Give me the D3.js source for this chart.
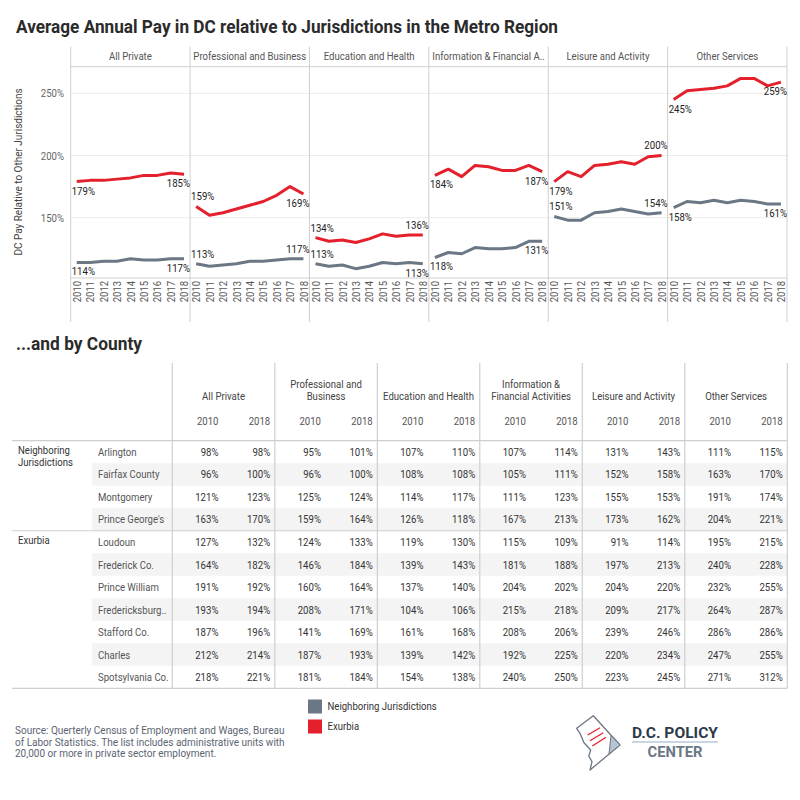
<!DOCTYPE html>
<html>
<head>
<meta charset="utf-8">
<script src="https://cdn.jsdelivr.net/npm/d3@7"></script>
<style>
  body { margin: 0; background: #fff; }
  svg text { font-family: Roboto, "Noto Sans", sans-serif; }
</style>
</head>
<body>
<div id="container"></div>
<script>
// ---- data ----
const years = [2010, 2011, 2012, 2013, 2014, 2015, 2016, 2017, 2018];
const sectors = ["All Private", "Professional and Business", "Education and Health",
  "Information & Financial A..", "Leisure and Activity", "Other Services"];

// one row per sector, one value per year
const neighboring = [
  [114, 114, 115, 115, 117, 116, 116, 117, 117],
  [113, 111, 112, 113, 115, 115, 116, 117, 117],
  [113, 111, 112, 109, 111, 114, 113, 114, 113],
  [118, 122, 121, 126, 125, 125, 126, 131, 131],
  [151, 148, 148, 154, 155, 157, 155, 153, 154],
  [158, 163, 162, 164, 162, 164, 163, 161, 161]
];
const exurbia = [
  [179, 180, 180, 181, 182, 184, 184, 186, 185],
  [159, 152, 154, 157, 160, 163, 168, 175, 169],
  [134, 131, 132, 130, 133, 137, 135, 136, 136],
  [184, 189, 183, 192, 191, 188, 188, 192, 187],
  [179, 187, 183, 192, 193, 195, 193, 199, 200],
  [245, 252, 253, 254, 256, 262, 262, 256, 259]
];
const yTicks = [150, 200, 250];

// table
const tableSectors = ["All Private", "Professional and\nBusiness", "Education and Health",
  "Information &\nFinancial Activities", "Leisure and Activity", "Other Services"];
const tableYears = ["2010", "2018"];
const groups = ["Neighboring\nJurisdictions", "Exurbia"];
const counties = ["Arlington", "Fairfax County", "Montgomery", "Prince George's",
  "Loudoun", "Frederick Co.", "Prince William", "Fredericksburg..", "Stafford Co.",
  "Charles", "Spotsylvania Co."];
const countyGroup = [0, 0, 0, 0, 1, 1, 1, 1, 1, 1, 1];
const countyValues = [
  [98, 98, 95, 101, 107, 110, 107, 114, 131, 143, 111, 115],
  [96, 100, 96, 100, 108, 108, 105, 111, 152, 158, 163, 170],
  [121, 123, 125, 124, 114, 117, 111, 123, 155, 153, 191, 174],
  [163, 170, 159, 164, 126, 118, 167, 213, 173, 162, 204, 221],
  [127, 132, 124, 133, 119, 130, 115, 109, 91, 114, 195, 215],
  [164, 182, 146, 184, 139, 143, 181, 188, 197, 213, 240, 228],
  [191, 192, 160, 164, 137, 140, 204, 202, 204, 220, 232, 255],
  [193, 194, 208, 171, 104, 106, 215, 218, 209, 217, 264, 287],
  [187, 196, 141, 169, 161, 168, 208, 206, 239, 246, 286, 286],
  [212, 214, 187, 193, 139, 142, 192, 225, 220, 234, 247, 255],
  [218, 221, 181, 184, 154, 138, 240, 250, 223, 245, 271, 312]
];

// where the first / last value labels sit (a = above line, b = below)
const grayLabelSide = [["b", "b"], ["a", "a"], ["a", "b"], ["b", "b"], ["a", "a"], ["b", "b"]];
const redLabelSide = [["b", "b"], ["a", "b"], ["a", "a"], ["b", "b"], ["b", "a"], ["b", "b"]];

const GRAY = "#6b7784";
const RED = "#e3202b";
const RULE = "#cfcfcf";

const svg = d3.select('#container')
  .append('svg')
  .attr('width', 800)
  .attr('height', 800);

// ---- titles ----
svg.append('text')
  .attr('x', 16).attr('y', 33)
  .attr('textLength', 542).attr('lengthAdjust', 'spacingAndGlyphs')
  .style('font-weight', 'bold').style('font-size', '19px').style('fill', '#2b2b2b')
  .text('Average Annual Pay in DC relative to Jurisdictions in the Metro Region');

svg.append('text')
  .attr('x', 16).attr('y', 350)
  .attr('textLength', 126).attr('lengthAdjust', 'spacingAndGlyphs')
  .style('font-weight', 'bold').style('font-size', '19px').style('fill', '#2b2b2b')
  .text('...and by County');

// ---- small multiples ----
const panel = d3.scaleBand().domain(sectors).range([70.7, 787]);
const y = d3.scaleLinear().domain([101.5, 271.4]).range([278, 66.7]);
const x = d3.scalePoint().domain(years).range([0, panel.bandwidth()]).padding(0.45);

const chart = svg.append('g');

// gridlines
chart.selectAll('.grid')
  .data(yTicks)
  .enter().append('line')
  .attr('x1', 70.7).attr('x2', 787)
  .attr('y1', d => y(d)).attr('y2', d => y(d))
  .style('stroke', '#ececec').style('stroke-width', 1);

// frame lines
chart.append('line').attr('x1', 70.7).attr('x2', 787).attr('y1', 66.7).attr('y2', 66.7)
  .style('stroke', RULE);
chart.append('line').attr('x1', 70.7).attr('x2', 787).attr('y1', 278).attr('y2', 278)
  .style('stroke', RULE);
chart.selectAll('.divider')
  .data(sectors.map(s => panel(s)).concat([787]))
  .enter().append('line')
  .attr('x1', d => d).attr('x2', d => d)
  .attr('y1', 46.7).attr('y2', 322)
  .style('stroke', RULE);

// y axis
const yAxis = chart.append('g')
  .attr('transform', 'translate(64,0)')
  .call(d3.axisLeft(y).tickValues(yTicks).tickSize(0).tickFormat(d => d + '%'));
yAxis.select('.domain').remove();
yAxis.selectAll('text')
  .attr('x', 0)
  .style('font-size', '11px').style('fill', '#666');

chart.append('text')
  .attr('transform', 'translate(22,172) rotate(-90)')
  .attr('text-anchor', 'middle')
  .attr('data-f', 0.95)
  .style('font-size', '10.5px').style('fill', '#444')
  .text('DC Pay Relative to Other Jurisdictions');

const line = d3.line()
  .x((d, i) => x(years[i]))
  .y(d => y(d));

sectors.forEach(function (s, k) {
  const g = chart.append('g').attr('transform', `translate(${panel(s)},0)`);

  g.append('text')
    .attr('x', panel.bandwidth() / 2).attr('y', 60)
    .attr('text-anchor', 'middle')
    .style('font-size', '11px').style('fill', '#555')
    .text(s);

  const xAxis = g.append('g')
    .attr('transform', 'translate(0,278)')
    .call(d3.axisBottom(x).tickSize(0));
  xAxis.select('.domain').remove();
  xAxis.selectAll('text')
    .attr('transform', 'rotate(-90)')
    .attr('x', -3).attr('y', 0).attr('dy', '0.35em')
    .attr('data-f', 0.9)
    .style('text-anchor', 'end')
    .style('font-size', '10.5px').style('fill', '#555');

  [[neighboring[k], GRAY, grayLabelSide[k]], [exurbia[k], RED, redLabelSide[k]]].forEach(function (ser) {
    const vals = ser[0];
    g.append('path')
      .attr('d', line(vals))
      .style('fill', 'none')
      .style('stroke', ser[1])
      .style('stroke-width', 3)
      .style('stroke-linejoin', 'round');

    const ends = [0, vals.length - 1];
    g.selectAll(null)
      .data(ends)
      .enter().append('text')
      .attr('x', (d, i) => i === 0 ? x(years[d]) - 5 : x(years[d]) + 6)
      .attr('y', (d, i) => ser[2][i] === 'a' ? y(vals[d]) - 6 : y(vals[d]) + 13)
      .attr('text-anchor', (d, i) => i === 0 ? 'start' : 'end')
      .style('font-size', '11px').style('fill', '#222')
      .text(d => vals[d] + '%');
  });
});

// ---- county table ----
const rows = d3.scaleBand().domain(counties).range([440.7, 688.3]);
const cols = d3.scaleBand().domain(tableSectors).range([172.3, 787.3]);
const tbl = svg.append('g');

// zebra stripes, counted within each group
tbl.selectAll('.stripe')
  .data(counties.filter((c, i) => (i - countyGroup.indexOf(countyGroup[i])) % 2 === 1))
  .enter().append('rect')
  .attr('x', 92).attr('width', 787.3 - 92)
  .attr('y', d => rows(d)).attr('height', rows.bandwidth())
  .style('fill', '#f4f4f4');

// rules
const hRules = [440.7, rows(counties[countyGroup.indexOf(1)]), 688.3];
tbl.selectAll('.hrule')
  .data(hRules)
  .enter().append('line')
  .attr('x1', 12).attr('x2', 787.3)
  .attr('y1', d => d).attr('y2', d => d)
  .style('stroke', RULE).style('stroke-width', 1.2);
tbl.selectAll('.vrule')
  .data(tableSectors.map(s => cols(s)).concat([787.3]))
  .enter().append('line')
  .attr('x1', d => d).attr('x2', d => d)
  .attr('y1', 363).attr('y2', 688.3)
  .style('stroke', RULE).style('stroke-width', 1.2);

// sector headers
tableSectors.forEach(function (s) {
  const lines = s.split('\n');
  const t = tbl.append('text')
    .attr('text-anchor', 'middle')
    .style('font-size', '11px').style('fill', '#444');
  lines.forEach(function (l, i) {
    t.append('tspan')
      .attr('x', cols(s) + cols.bandwidth() / 2)
      .attr('y', 400 - (lines.length - 1 - i) * 12)
      .text(l);
  });
  tableYears.forEach(function (yr, j) {
    tbl.append('text')
      .attr('x', cols(s) + cols.bandwidth() * (j === 0 ? 0.45 : 0.955))
      .attr('y', 424.5)
      .attr('text-anchor', 'end')
      .style('font-size', '11px').style('fill', '#555')
      .text(yr);
  });
});

// group labels
groups.forEach(function (gname, gi) {
  const first = counties[countyGroup.indexOf(gi)];
  const t = tbl.append('text').style('font-size', '11px').style('fill', '#333');
  gname.split('\n').forEach(function (l, i) {
    t.append('tspan').attr('x', 18).attr('y', rows(first) + 13 + i * 12).text(l);
  });
});

// county names and values
counties.forEach(function (c, r) {
  const cy = rows(c) + rows.bandwidth() / 2 + 4;
  tbl.append('text')
    .attr('x', 98).attr('y', cy)
    .style('font-size', '11px').style('fill', '#555')
    .text(c);
  tbl.selectAll(null)
    .data(countyValues[r])
    .enter().append('text')
    .attr('x', (d, i) => cols(tableSectors[Math.floor(i / 2)]) + cols.bandwidth() * (i % 2 === 0 ? 0.45 : 0.955))
    .attr('y', cy)
    .attr('text-anchor', 'end')
    .style('font-size', '11px').style('fill', '#333')
    .text(d => d + '%');
});

// ---- legend ----
const legend = svg.append('g');
[["Neighboring Jurisdictions", GRAY], ["Exurbia", RED]].forEach(function (d, i) {
  legend.append('rect')
    .attr('x', 308).attr('y', 699.5 + i * 20).attr('width', 14).attr('height', 14)
    .style('fill', d[1]);
  legend.append('text')
    .attr('x', 327.5).attr('y', 710 + i * 20)
    .style('font-size', '11px').style('fill', '#333')
    .text(d[0]);
});

// ---- source note ----
const src = svg.append('text').style('font-size', '10px').style('fill', '#5b6572');
["Source: Querterly Census of Employment and Wages, Bureau",
 "of Labor Statistics. The list includes administrative units with",
 "20,000 or more in private sector employment."].forEach(function (l, i) {
  src.append('tspan').attr('x', 15).attr('y', 734 + i * 11.6).attr('data-f', 1).text(l);
});

// ---- logo ----
const logo = svg.append('g');
logo.append('path')
  .attr('d', 'M576.7,728.3 L593.3,715.7 L620,745 L590,770 L592,761.7 L588.7,756 L590.7,750 L584,742.7 L580,733.3 Z')
  .style('fill', '#fff').style('stroke', '#6b7784').style('stroke-width', 1.3)
  .style('stroke-linejoin', 'round');
logo.append('path')
  .attr('d', 'M611,735.5 L620,745 L609,754 Z')
  .style('fill', '#b7c4d2').style('stroke', '#6b7784').style('stroke-width', 1);
logo.selectAll('.redline')
  .data([[587.7, 735, 600, 727.7], [590, 740.7, 603.3, 732.7], [592.3, 746, 606, 737.3]])
  .enter().append('line')
  .attr('x1', d => d[0]).attr('y1', d => d[1]).attr('x2', d => d[2]).attr('y2', d => d[3])
  .style('stroke', RED).style('stroke-width', 1.3);
logo.append('text')
  .attr('x', 632).attr('y', 737.5)
  .attr('textLength', 86).attr('lengthAdjust', 'spacingAndGlyphs')
  .style('font-weight', 'bold').style('font-size', '15px').style('fill', '#2e3a48')
  .text('D.C. POLICY');
logo.append('line')
  .attr('x1', 632).attr('x2', 718).attr('y1', 742).attr('y2', 742)
  .style('stroke', '#b9c8d8').style('stroke-width', 1.5);
logo.append('text')
  .attr('x', 647.5).attr('y', 757)
  .attr('textLength', 55).attr('lengthAdjust', 'spacingAndGlyphs')
  .style('font-weight', 'bold').style('font-size', '14px').style('fill', '#6b7784')
  .text('CENTER');

// the original uses a narrow face; squeeze the wider fallback to the same widths
svg.selectAll('text, tspan').each(function () {
  if (this.hasAttribute('textLength')) return;
  if (this.tagName === 'text' && this.querySelector('tspan')) return;
  const f = +(this.getAttribute('data-f') || 0.87);
  const w = this.getComputedTextLength();
  if (w > 0) {
    this.setAttribute('textLength', (w * f).toFixed(1));
    this.setAttribute('lengthAdjust', 'spacingAndGlyphs');
  }
});
</script>
</body>
</html>
